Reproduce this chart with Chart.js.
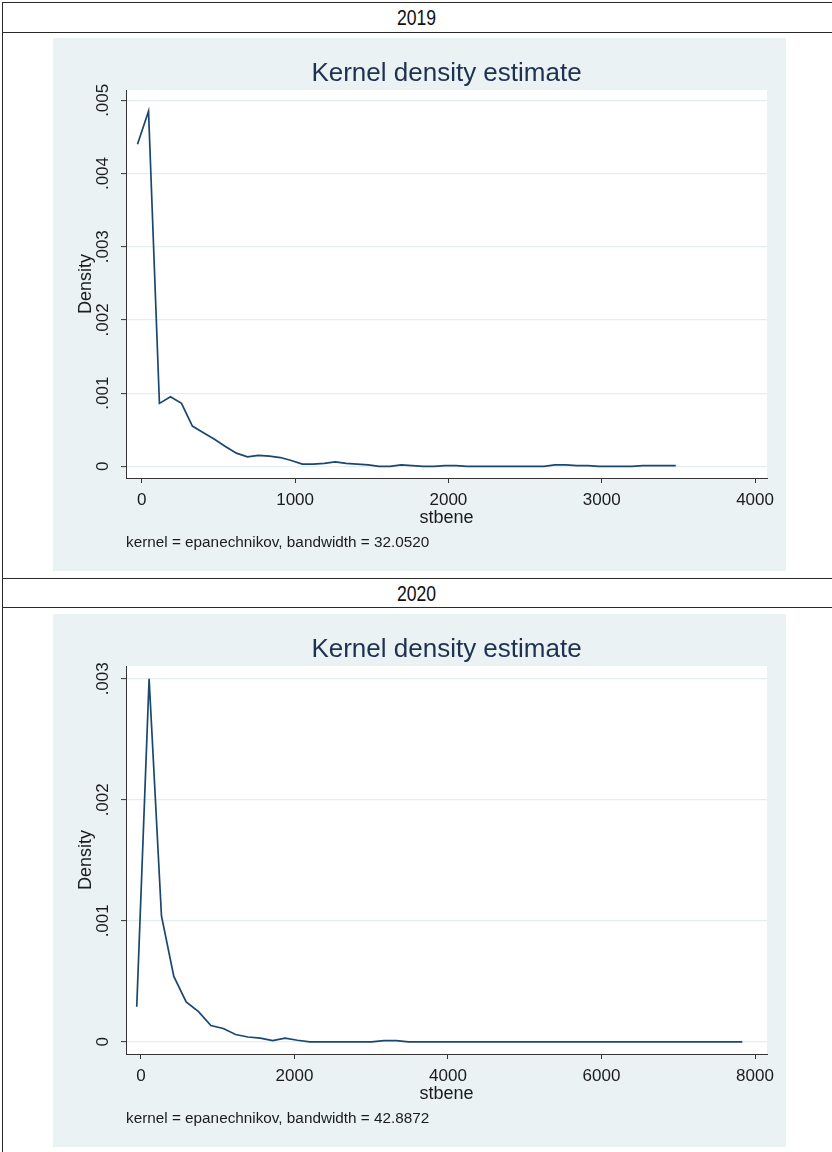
<!DOCTYPE html>
<html>
<head>
<meta charset="utf-8">
<script src="https://cdn.jsdelivr.net/npm/chart.js@4.4.1/dist/chart.umd.min.js"></script>
<style>
  html, body { margin: 0; padding: 0; background: #ffffff; }
  body { width: 832px; height: 1152px; position: relative; overflow: hidden; font-family: "Liberation Sans", Arial, sans-serif; }
  .hline { position: absolute; left: 2px; width: 840px; height: 1px; background: #2a2a2a; }
  .vline { position: absolute; left: 2px; top: 2px; width: 1px; height: 1160px; background: #2a2a2a; }
  .hdr { position: absolute; left: 3px; width: 826px; text-align: center; font-family: "Liberation Sans Narrow", "Liberation Sans", Arial, sans-serif; font-size: 22px; color: #111; }
  .hdr span { display: inline-block; transform: scaleX(0.8); }
  canvas { position: absolute; left: 53px; background: #eaf2f3; }
</style>
</head>
<body>
<div class="hline" style="top:2px"></div>
<div class="hline" style="top:32px"></div>
<div class="hline" style="top:578px"></div>
<div class="hline" style="top:607px"></div>
<div class="vline"></div>
<div class="hdr" id="h1" style="top:5px"><span></span></div>
<div class="hdr" id="h2" style="top:581px"><span></span></div>
<canvas id="c1" width="733" height="533" style="top:38px"></canvas>
<canvas id="c2" width="733" height="533" style="top:614px"></canvas>
<script>
// ---------- data ----------
const years = ["2019", "2020"];
const chartTitle = "Kernel density estimate";
const xAxisTitle = "stbene";
const yAxisTitle = "Density";
const notes = ["kernel = epanechnikov, bandwidth = 32.0520",
               "kernel = epanechnikov, bandwidth = 42.8872"];

const stbene2019 = [-28, 44, 115, 187, 259, 330, 402, 474, 545, 617, 689, 760, 832, 904, 975,
  1047, 1119, 1190, 1262, 1333, 1405, 1477, 1548, 1620, 1692, 1763, 1835, 1907, 1978, 2050,
  2122, 2193, 2265, 2337, 2408, 2480, 2551, 2623, 2695, 2766, 2838, 2910, 2981, 3053, 3125,
  3196, 3268, 3340, 3411, 3483];
const density2019 = [0.00440, 0.00485, 0.00086, 0.00095, 0.00086, 0.00055, 0.00046, 0.00037, 0.00027, 0.00018,
  0.00013, 0.00015, 0.00014, 0.00012, 0.00008, 0.00003, 0.00003, 0.00004, 0.00006, 0.00004,
  0.00003, 0.00002, 0.00000, 0.00000, 0.00002, 0.00001, 0.00000, 0.00000, 0.00001, 0.00001,
  0.00000, 0.00000, 0.00000, 0.00000, 0.00000, 0.00000, 0.00000, 0.00000, 0.00002, 0.00002,
  0.00001, 0.00001, 0.00000, 0.00000, 0.00000, 0.00000, 0.00001, 0.00001, 0.00001, 0.00001];

const stbene2020 = [-55, 106, 267, 428, 589, 750, 911, 1072, 1233, 1394, 1555, 1716, 1877, 2038, 2199,
  2360, 2521, 2682, 2843, 3004, 3165, 3326, 3487, 3648, 3809, 3970, 4131, 4292, 4453, 4614,
  4775, 4936, 5097, 5258, 5419, 5580, 5741, 5902, 6063, 6224, 6385, 6546, 6707, 6868, 7029,
  7190, 7351, 7512, 7673, 7834];
const density2020 = [0.00029, 0.00300, 0.00104, 0.00054, 0.00033, 0.00025, 0.000135, 0.00011, 0.00006, 0.00004,
  0.00003, 0.00001, 0.00003, 0.000013, 0.00000, 0.00000, 0.00000, 0.00000, 0.00000, 0.00000,
  0.00001, 0.00001, 0.00000, 0.00000, 0.00000, 0.00000, 0.00000, 0.00000, 0.00000, 0.00000,
  0.00000, 0.00000, 0.00000, 0.00000, 0.00000, 0.00000, 0.00000, 0.00000, 0.00000, 0.00000,
  0.00000, 0.00000, 0.00000, 0.00000, 0.00000, 0.00000, 0.00000, 0.00000, 0.00000, 0.00000];

const xTicks2019 = [0, 1000, 2000, 3000, 4000];
const xTickLabels2019 = ["0", "1000", "2000", "3000", "4000"];
const yTicks2019 = [0, 0.001, 0.002, 0.003, 0.004, 0.005];
const yTickLabels2019 = ["0", ".001", ".002", ".003", ".004", ".005"];

const xTicks2020 = [0, 2000, 4000, 6000, 8000];
const xTickLabels2020 = ["0", "2000", "4000", "6000", "8000"];
const yTicks2020 = [0, 0.001, 0.002, 0.003];
const yTickLabels2020 = ["0", ".001", ".002", ".003"];

// ---------- drawing ----------
document.querySelector('#h1 span').textContent = years[0];
document.querySelector('#h2 span').textContent = years[1];

const FONT = "'Liberation Sans', Arial, sans-serif";
const LINE = '#1a476f';
const AXIS = '#333333';
const GRID = '#e4edef';
const TXT = '#1b1b1b';

const plotBg = {
  id: 'plotBg',
  beforeDraw(chart) {
    const {ctx, chartArea: a} = chart;
    ctx.save();
    ctx.fillStyle = '#ffffff';
    ctx.fillRect(a.left, a.top, a.right - a.left, a.bottom - a.top);
    ctx.restore();
  }
};

function makeChart(id, xs, ys, xTicks, xLabels, yTicks, yLabels, xRange, yRange, note) {
  return new Chart(document.getElementById(id), {
    type: 'line',
    data: {
      datasets: [{
        data: xs.map((x, i) => ({x: x, y: ys[i]})),
        borderColor: LINE,
        borderWidth: 1.7,
        pointRadius: 0,
        tension: 0,
        fill: false
      }]
    },
    options: {
      responsive: false,
      animation: false,
      devicePixelRatio: 1,
      layout: {padding: {top: 0, left: 0, right: 0, bottom: 0}},
      plugins: {
        legend: {display: false},
        tooltip: {enabled: false},
        title: {
          display: true, text: chartTitle, color: '#1e3150', fullSize: false,
          font: {family: FONT, size: 26, weight: 'normal', lineHeight: 1.2},
          padding: {top: 20.4, bottom: 0.4}
        },
        subtitle: {
          display: true, text: note, position: 'bottom', align: 'start', fullSize: false,
          color: TXT, font: {family: FONT, size: 15.3, weight: 'normal', lineHeight: 1.2},
          padding: {top: 5.8, bottom: 19.5}
        }
      },
      scales: {
        x: {
          type: 'linear', position: 'bottom', min: xRange[0], max: xRange[1],
          afterBuildTicks: s => { s.ticks = xTicks.map(v => ({value: v})); },
          afterFit: s => { s.height = 49.3; },
          ticks: {
            callback: (v, i) => xLabels[i], color: TXT, padding: 7.5,
            maxRotation: 0, minRotation: 0, autoSkip: false,
            font: {family: FONT, size: 17, lineHeight: 1.2}
          },
          grid: {drawOnChartArea: false, drawTicks: true, tickLength: 5, tickColor: AXIS, tickWidth: 1},
          border: {display: true, color: AXIS, width: 1},
          title: {display: true, text: xAxisTitle, color: TXT,
                  font: {family: FONT, size: 18, lineHeight: 1}, padding: {top: 0, bottom: 0}}
        },
        y: {
          type: 'linear', position: 'left', min: yRange[0], max: yRange[1],
          afterBuildTicks: s => { s.ticks = yTicks.map(v => ({value: v})); },
          afterFit: s => { s.width = 73; },
          ticks: {
            callback: (v, i) => yLabels[i], color: TXT, padding: 1,
            minRotation: 90, maxRotation: 90, crossAlign: 'center', autoSkip: false,
            font: {family: FONT, size: 17, lineHeight: 1.2}
          },
          grid: {drawOnChartArea: true, color: GRID, lineWidth: 1.2, drawTicks: true, tickLength: 5, tickColor: AXIS, tickWidth: 1},
          border: {display: true, color: AXIS, width: 1},
          title: {display: true, text: yAxisTitle, color: TXT,
                  font: {family: FONT, size: 18, lineHeight: 1}, padding: {top: 24, bottom: 0}}
        },
        yr: {
          type: 'linear', position: 'right', display: true,
          afterFit: s => { s.width = 19; },
          ticks: {display: false},
          grid: {display: false, drawTicks: false},
          border: {display: false}
        }
      }
    },
    plugins: [plotBg]
  });
}

makeChart('c1', stbene2019, density2019, xTicks2019, xTickLabels2019, yTicks2019, yTickLabels2019,
          [-103, 4078], [-0.00016, 0.005141], notes[0]);
makeChart('c2', stbene2020, density2020, xTicks2020, xTickLabels2020, yTicks2020, yTickLabels2020,
          [-195, 8156], [-0.000101, 0.003106], notes[1]);
</script>
</body>
</html>
